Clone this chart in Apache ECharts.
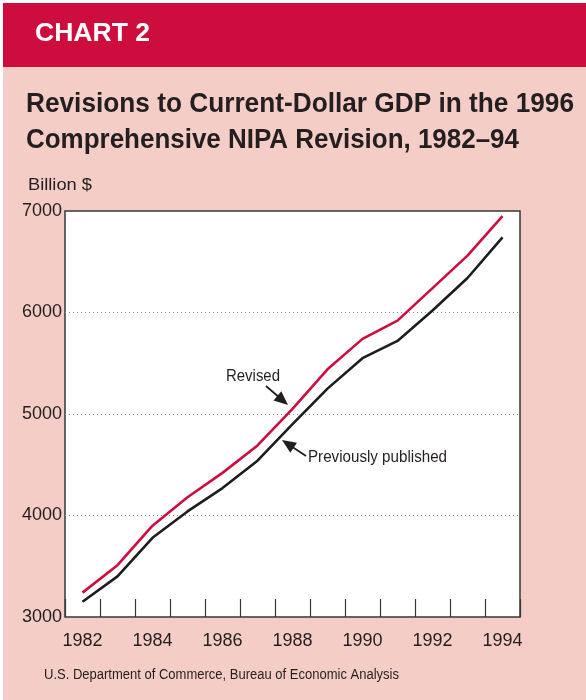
<!DOCTYPE html>
<html>
<head>
<meta charset="utf-8">
<script src="https://cdn.jsdelivr.net/npm/echarts@6/dist/echarts.min.js"></script>
<style>
  html, body { margin: 0; padding: 0; background: #ffffff; }
  #chart { width: 586px; height: 700px; }
</style>
</head>
<body>
<div id="chart"></div>
<script>
// Current-dollar GDP, billions of dollars, 1982-94
const years = ['1982', '1983', '1984', '1985', '1986', '1987', '1988',
               '1989', '1990', '1991', '1992', '1993', '1994'];
const revised = [3240, 3510, 3900, 4180, 4420, 4690, 5050,
                 5440, 5740, 5920, 6240, 6560, 6950];
const previouslyPublished = [3150, 3400, 3780, 4040, 4270, 4540, 4900,
                             5250, 5550, 5720, 6020, 6340, 6740];
const yTicks = [3000, 4000, 5000, 6000, 7000];

const FONT = '"Liberation Sans", Arial, sans-serif';
const RED = '#cd0d3e';
const PINK = '#f4cdc6';
const INK = '#231f20';

// measure a string so condensed type can be set to a given width;
// placed by its baseline (top of line box sits ~0.846 em above it)
const measureCtx = document.createElement('canvas').getContext('2d');
function label(text, size, weight, x, baseline, width, extra) {
  const font = (weight ? weight + ' ' : '') + size + 'px ' + FONT;
  measureCtx.font = font;
  const w = measureCtx.measureText(text).width;
  return Object.assign({
    type: 'text', x: x, y: baseline - 0.846 * size, scaleX: width / w,
    style: { text: text, font: font, fill: INK, verticalAlign: 'top', lineHeight: size }
  }, extra || {});
}

// arrow annotation: a shaft plus a filled head pointing at (x2, y2)
function arrow(x1, y1, x2, y2) {
  const dx = x2 - x1, dy = y2 - y1;
  const len = Math.hypot(dx, dy);
  const ux = dx / len, uy = dy / len;
  const hl = 14, hw = 6;
  const bx = x2 - ux * hl, by = y2 - uy * hl;
  return [
    { type: 'line', shape: { x1: x1, y1: y1, x2: bx + ux, y2: by + uy },
      style: { stroke: INK, lineWidth: 1.8 }, z: 20 },
    { type: 'polygon',
      shape: { points: [[x2, y2], [bx - uy * hw, by + ux * hw], [bx + uy * hw, by - ux * hw]] },
      style: { fill: INK }, z: 20 }
  ];
}

const chart = echarts.init(document.getElementById('chart'), null, { renderer: 'canvas' });

const chartLabel = label('CHART 2', 25, 'bold', 35, 43, 115);
chartLabel.style.fill = '#ffffff';

chart.setOption({
  backgroundColor: '#ffffff',
  animation: false,
  graphic: [
    { type: 'rect', shape: { x: 3, y: 3, width: 583, height: 697 }, style: { fill: PINK }, z: -10 },
    { type: 'rect', shape: { x: 3, y: 3, width: 583, height: 64 }, style: { fill: RED }, z: -9 },
    chartLabel,
    label('Revisions to Current-Dollar GDP in the 1996', 27, 'bold', 26, 114, 548),
    label('Comprehensive NIPA Revision, 1982\u201394', 27, 'bold', 26, 150, 493),
    label('Billion $', 17, '', 28, 191, 64),
    label('U.S. Department of Commerce, Bureau of Economic Analysis', 14, '', 44, 680, 355),
    label('Revised', 16, '', 226, 382, 54, { z: 20 }),
    label('Previously published', 16, '', 308, 463, 139, { z: 20 })
  ].concat(arrow(266, 386, 288, 405), arrow(306, 456, 282, 440)),
  grid: {
    left: 65, right: 66, top: 211, height: 406,
    show: true, backgroundColor: '#ffffff', borderColor: '#3a3637', borderWidth: 1.5
  },
  xAxis: {
    type: 'category',
    data: years,
    boundaryGap: true,
    axisLine: { show: false },
    axisTick: { show: true, inside: true, length: 18, interval: 0,
                lineStyle: { color: '#3a3637', width: 1.2 } },
    axisLabel: { interval: 1, margin: 15, color: INK, fontFamily: FONT, fontSize: 18 },
    splitLine: { show: false }
  },
  yAxis: {
    type: 'value',
    min: yTicks[0], max: yTicks[yTicks.length - 1], interval: 1000,
    axisLine: { show: false },
    axisTick: { show: false },
    axisLabel: { margin: 3, color: INK, fontFamily: FONT, fontSize: 18,
                 formatter: function (v) { return String(v); } },
    splitLine: { show: true, showMinLine: false, showMaxLine: false,
                 lineStyle: { type: [1, 3], color: '#8a8a8a', width: 1 } }
  },
  series: [
    { name: 'Revised', type: 'line', data: revised, symbol: 'none',
      lineStyle: { color: RED, width: 2.6 }, z: 5 },
    { name: 'Previously published', type: 'line', data: previouslyPublished, symbol: 'none',
      lineStyle: { color: '#1e1c1d', width: 2.6 }, z: 4 }
  ]
});
</script>
</body>
</html>
